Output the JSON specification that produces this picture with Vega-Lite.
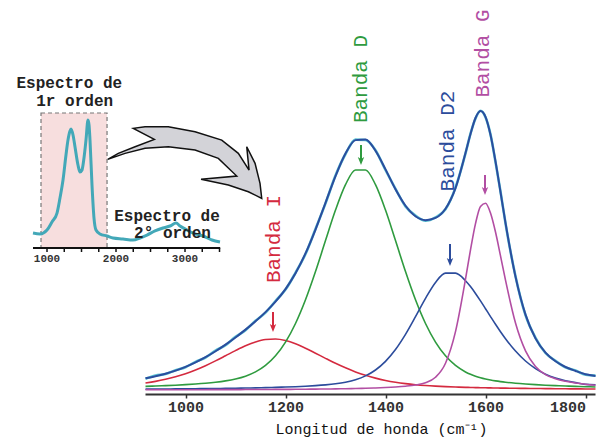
{
  "$schema": "https://vega.github.io/schema/vega-lite/v6.json",
  "width": 450,
  "height": 380,
  "autosize": {"type": "none"},
  "padding": {"left": 145, "top": 14, "right": 5, "bottom": 47},
  "background": "white",
  "config": {"view": {"stroke": null}, "text": {"font": "Liberation Mono"}},
  "datasets": {
    "espectro": [
      {"w":920,"banda_I":5.52,"banda_D":3.81,"banda_D2":2.45,"banda_G":2.11,"ajuste":7.89,"experimental":7.6},
      {"w":940,"banda_I":6.31,"banda_D":3.98,"banda_D2":2.48,"banda_G":2.12,"ajuste":8.89,"experimental":9.2},
      {"w":960,"banda_I":7.33,"banda_D":4.18,"banda_D2":2.52,"banda_G":2.12,"ajuste":10.15,"experimental":10.0},
      {"w":980,"banda_I":8.61,"banda_D":4.40,"banda_D2":2.55,"banda_G":2.13,"ajuste":11.69,"experimental":11.9},
      {"w":1000,"banda_I":10.17,"banda_D":4.67,"banda_D2":2.59,"banda_G":2.14,"ajuste":13.57,"experimental":13.4},
      {"w":1020,"banda_I":12.03,"banda_D":4.99,"banda_D2":2.64,"banda_G":2.15,"ajuste":15.81,"experimental":16.1},
      {"w":1040,"banda_I":14.17,"banda_D":5.38,"banda_D2":2.69,"banda_G":2.16,"ajuste":18.40,"experimental":18.2},
      {"w":1060,"banda_I":16.57,"banda_D":5.88,"banda_D2":2.75,"banda_G":2.17,"ajuste":21.37,"experimental":21.7},
      {"w":1080,"banda_I":19.12,"banda_D":6.55,"banda_D2":2.82,"banda_G":2.19,"ajuste":24.68,"experimental":24.4},
      {"w":1100,"banda_I":21.69,"banda_D":7.50,"banda_D2":2.89,"banda_G":2.20,"ajuste":28.28,"experimental":28.6},
      {"w":1120,"banda_I":24.08,"banda_D":8.90,"banda_D2":2.98,"banda_G":2.22,"ajuste":32.18,"experimental":31.9},
      {"w":1140,"banda_I":26.01,"banda_D":11.04,"banda_D2":3.08,"banda_G":2.24,"ajuste":36.37,"experimental":36.6},
      {"w":1160,"banda_I":27.22,"banda_D":14.28,"banda_D2":3.19,"banda_G":2.26,"ajuste":40.95,"experimental":40.7},
      {"w":1180,"banda_I":27.47,"banda_D":19.09,"banda_D2":3.32,"banda_G":2.29,"ajuste":46.17,"experimental":46.5},
      {"w":1200,"banda_I":26.72,"banda_D":25.94,"banda_D2":3.48,"banda_G":2.32,"ajuste":52.46,"experimental":52.2},
      {"w":1220,"banda_I":25.12,"banda_D":35.24,"banda_D2":3.66,"banda_G":2.35,"ajuste":60.37,"experimental":60.6},
      {"w":1240,"banda_I":22.92,"banda_D":47.09,"banda_D2":3.89,"banda_G":2.39,"ajuste":70.29,"experimental":70.0},
      {"w":1260,"banda_I":20.41,"banda_D":61.21,"banda_D2":4.18,"banda_G":2.44,"ajuste":82.24,"experimental":82.5},
      {"w":1280,"banda_I":17.83,"banda_D":76.71,"banda_D2":4.56,"banda_G":2.49,"ajuste":95.59,"experimental":95.3},
      {"w":1300,"banda_I":15.34,"banda_D":91.97,"banda_D2":5.09,"banda_G":2.56,"ajuste":108.96,"experimental":109.2},
      {"w":1320,"banda_I":13.07,"banda_D":104.66,"banda_D2":5.89,"banda_G":2.64,"ajuste":120.26,"experimental":120.0},
      {"w":1340,"banda_I":11.06,"banda_D":112.02,"banda_D2":7.12,"banda_G":2.74,"ajuste":126.94,"experimental":127.2},
      {"w":1360,"banda_I":9.35,"banda_D":112.02,"banda_D2":9.05,"banda_G":2.87,"ajuste":127.29,"experimental":127.0},
      {"w":1380,"banda_I":7.93,"banda_D":104.66,"banda_D2":12.00,"banda_G":3.03,"ajuste":121.62,"experimental":121.9},
      {"w":1400,"banda_I":6.79,"banda_D":91.97,"banda_D2":16.32,"banda_G":3.24,"ajuste":112.32,"experimental":112.0},
      {"w":1420,"banda_I":5.89,"banda_D":76.71,"banda_D2":22.25,"banda_G":3.52,"ajuste":102.37,"experimental":102.6},
      {"w":1440,"banda_I":5.19,"banda_D":61.21,"banda_D2":29.82,"banda_G":3.91,"ajuste":94.13,"experimental":93.8},
      {"w":1460,"banda_I":4.65,"banda_D":47.09,"banda_D2":38.65,"banda_G":4.50,"ajuste":88.89,"experimental":89.2},
      {"w":1480,"banda_I":4.24,"banda_D":35.24,"banda_D2":47.83,"banda_G":5.62,"ajuste":86.93,"experimental":86.6},
      {"w":1500,"banda_I":3.93,"banda_D":25.94,"banda_D2":55.80,"banda_G":8.36,"ajuste":88.03,"experimental":88.3},
      {"w":1520,"banda_I":3.68,"banda_D":19.09,"banda_D2":60.46,"banda_G":15.39,"ajuste":92.62,"experimental":92.4},
      {"w":1540,"banda_I":3.49,"banda_D":14.28,"banda_D2":60.42,"banda_G":31.2,"ajuste":102.94,"experimental":103.2},
      {"w":1560,"banda_I":3.33,"banda_D":11.04,"banda_D2":56.65,"banda_G":57.4,"ajuste":120.5,"experimental":120.3},
      {"w":1570,"banda_I":3.27,"banda_D":9.86,"banda_D2":53.71,"banda_G":72.1,"ajuste":130.0,"experimental":130.2},
      {"w":1580,"banda_I":3.21,"banda_D":8.90,"banda_D2":50.29,"banda_G":85.2,"ajuste":138.0,"experimental":137.8},
      {"w":1590,"banda_I":3.15,"banda_D":8.13,"banda_D2":46.55,"banda_G":93.8,"ajuste":141.5,"experimental":141.6},
      {"w":1600,"banda_I":3.10,"banda_D":7.50,"banda_D2":42.65,"banda_G":95.4,"ajuste":138.6,"experimental":138.4},
      {"w":1610,"banda_I":3.05,"banda_D":6.98,"banda_D2":38.72,"banda_G":90.5,"ajuste":129.6,"experimental":129.8},
      {"w":1620,"banda_I":3.00,"banda_D":6.55,"banda_D2":34.85,"banda_G":81.0,"ajuste":116.3,"experimental":116.0},
      {"w":1630,"banda_I":2.96,"banda_D":6.19,"banda_D2":31.14,"banda_G":69.1,"ajuste":101.0,"experimental":101.3},
      {"w":1640,"banda_I":2.92,"banda_D":5.88,"banda_D2":27.65,"banda_G":56.9,"ajuste":85.6,"experimental":85.4},
      {"w":1660,"banda_I":2.85,"banda_D":5.38,"banda_D2":21.47,"banda_G":35.5,"ajuste":58.67,"experimental":58.9},
      {"w":1680,"banda_I":2.79,"banda_D":4.99,"banda_D2":16.49,"banda_G":21.6,"ajuste":39.66,"experimental":39.4},
      {"w":1700,"banda_I":2.74,"banda_D":4.67,"banda_D2":12.68,"banda_G":13.8,"ajuste":27.80,"experimental":28.1},
      {"w":1720,"banda_I":2.69,"banda_D":4.40,"banda_D2":9.90,"banda_G":9.72,"ajuste":20.71,"experimental":20.5},
      {"w":1740,"banda_I":2.64,"banda_D":4.18,"banda_D2":7.95,"banda_G":7.59,"ajuste":16.36,"experimental":16.6},
      {"w":1760,"banda_I":2.60,"banda_D":3.98,"banda_D2":6.60,"banda_G":6.33,"ajuste":13.51,"experimental":13.3},
      {"w":1780,"banda_I":2.56,"banda_D":3.81,"banda_D2":5.68,"banda_G":5.48,"ajuste":11.53,"experimental":11.8},
      {"w":1800,"banda_I":2.53,"banda_D":3.66,"banda_D2":4.81,"banda_G":4.86,"ajuste":9.86,"experimental":9.6},
      {"w":1820,"banda_I":2.50,"banda_D":3.52,"banda_D2":4.59,"banda_G":4.40,"ajuste":9.01,"experimental":9.2}
    ],
    "etiquetas": [
      {"w":1177,"I":77.5,"label":"Banda I","banda":"I"},
      {"w":1351,"I":157.5,"label":"Banda D","banda":"D"},
      {"w":1524,"I":126.5,"label":"Banda D2","banda":"D2"},
      {"w":1594,"I":170.25,"label":"Banda G","banda":"G"}
    ],
    "flechas": [
      {"banda":"I","w":1175,"top":41,"bottom":31},
      {"banda":"D","w":1351,"top":124.5,"bottom":114.5},
      {"banda":"D2","w":1529,"top":75,"bottom":64},
      {"banda":"G","w":1599,"top":109.5,"bottom":99.5}
    ],
    "inset": [
      {"wv":797,"v":11.1},{"wv":899,"v":10.4},{"wv":1000,"v":13.3},{"wv":1072,"v":19.3},
      {"wv":1145,"v":25.9},{"wv":1188,"v":37.0},{"wv":1232,"v":50.4},{"wv":1275,"v":68.9},
      {"wv":1304,"v":80.0},{"wv":1333,"v":86.7},{"wv":1348,"v":88.1},{"wv":1377,"v":83.7},
      {"wv":1406,"v":74.8},{"wv":1449,"v":61.5},{"wv":1478,"v":56.3},{"wv":1507,"v":57.8},
      {"wv":1536,"v":66.7},{"wv":1565,"v":80.0},{"wv":1594,"v":94.8},{"wv":1609,"v":91.1},
      {"wv":1623,"v":80.0},{"wv":1652,"v":46.7},{"wv":1681,"v":22.2},{"wv":1710,"v":13.3},
      {"wv":1768,"v":10.4},{"wv":1870,"v":8.9},{"wv":1957,"v":7.4},{"wv":2101,"v":6.7},
      {"wv":2246,"v":5.9},{"wv":2348,"v":7.4},{"wv":2449,"v":9.6},{"wv":2565,"v":12.6},
      {"wv":2681,"v":14.8},{"wv":2783,"v":16.3},{"wv":2870,"v":18.5},{"wv":2928,"v":16.3},
      {"wv":3029,"v":13.3},{"wv":3145,"v":10.4},{"wv":3261,"v":8.9},{"wv":3391,"v":5.9},
      {"wv":3507,"v":4.4}
    ],
    "inset_zona": [{"x1":913,"x2":1870,"y1":0,"y2":100}],
    "inset_eje": [{"x1":797,"x2":3510}],
    "inset_ticks": [{"wv":1000},{"wv":1250},{"wv":1500},{"wv":1750},{"wv":2000},{"wv":2250},{"wv":2500},{"wv":2750},{"wv":3000},{"wv":3250},{"wv":3500}],
    "inset_etiquetas": [{"wv":1000,"label":"1000"},{"wv":2000,"label":"2000"},{"wv":3000,"label":"3000"}],
    "inset_textos": [
      {"wv":1323,"v":122.2,"label":"Espectro de"},
      {"wv":1401,"v":108.9,"label":"1r orden"},
      {"wv":2739,"v":23.6,"label":"Espectro de"},
      {"wv":2819,"v":11.0,"label":"2° orden"}
    ],
    "flecha_grande": [{"wv":2996,"v":63.3}]
  },
  "layer": [
    {
      "layer": [
        {
          "data": {"name": "espectro"},
          "mark": {"type": "line", "color": "#d42a3f", "strokeWidth": 1.6, "interpolate": "monotone"},
          "encoding": {
            "x": {"field": "w", "type": "quantitative",
                  "scale": {"domain": [919, 1819], "nice": false, "zero": false},
                  "axis": {"orient": "bottom", "values": [1000, 1200, 1400, 1600, 1800], "format": "d", "grid": false,
                           "domainColor": "#333", "domainWidth": 2, "tickColor": "#333", "tickSize": 4, "tickWidth": 1.5,
                           "labelFont": "Liberation Mono", "labelFontSize": 15, "labelFontWeight": "bold", "labelColor": "#333",
                           "labelPadding": 1, "labelFlush": 12,
                           "title": "Longitud de honda (cm⁻¹)", "titleFont": "Liberation Mono", "titleFontSize": 15,
                           "titleFontWeight": "normal", "titleColor": "#111", "titlePadding": 7, "titleX": 236}},
            "y": {"field": "banda_I", "type": "quantitative",
                  "scale": {"domain": [0, 190], "nice": false, "zero": false}, "axis": null}
          }
        },
        {
          "data": {"name": "espectro"},
          "mark": {"type": "line", "color": "#2f9b3f", "strokeWidth": 1.6, "interpolate": "monotone"},
          "encoding": {
            "x": {"field": "w", "type": "quantitative"},
            "y": {"field": "banda_D", "type": "quantitative", "axis": null}
          }
        },
        {
          "data": {"name": "espectro"},
          "mark": {"type": "line", "color": "#2c4c9c", "strokeWidth": 1.6, "interpolate": "monotone"},
          "encoding": {
            "x": {"field": "w", "type": "quantitative"},
            "y": {"field": "banda_D2", "type": "quantitative", "axis": null}
          }
        },
        {
          "data": {"name": "espectro"},
          "mark": {"type": "line", "color": "#b24ea3", "strokeWidth": 1.6, "interpolate": "monotone"},
          "encoding": {
            "x": {"field": "w", "type": "quantitative"},
            "y": {"field": "banda_G", "type": "quantitative", "axis": null}
          }
        },
        {
          "data": {"name": "espectro"},
          "mark": {"type": "line", "color": "#5cc3d3", "strokeWidth": 2.6, "interpolate": "monotone"},
          "encoding": {
            "x": {"field": "w", "type": "quantitative"},
            "y": {"field": "experimental", "type": "quantitative", "axis": null}
          }
        },
        {
          "data": {"name": "espectro"},
          "mark": {"type": "line", "color": "#2b4d9e", "strokeWidth": 2, "interpolate": "monotone"},
          "encoding": {
            "x": {"field": "w", "type": "quantitative"},
            "y": {"field": "ajuste", "type": "quantitative", "axis": null}
          }
        },
        {
          "data": {"name": "flechas"},
          "mark": {"type": "rule", "strokeWidth": 2, "y2Offset": -4},
          "encoding": {
            "x": {"field": "w", "type": "quantitative"},
            "y": {"field": "top", "type": "quantitative", "axis": null},
            "y2": {"field": "bottom"},
            "color": {"field": "banda", "type": "nominal",
                      "scale": {"domain": ["I", "D", "D2", "G"], "range": ["#d42a3f", "#2f9b3f", "#2c4c9c", "#b24ea3"]},
                      "legend": null}
          }
        },
        {
          "data": {"name": "flechas"},
          "mark": {"type": "point", "shape": "M-0.8,-1L0,1L0.8,-1L0,-0.5Z", "size": 64, "filled": true, "opacity": 1, "yOffset": -4},
          "encoding": {
            "x": {"field": "w", "type": "quantitative"},
            "y": {"field": "bottom", "type": "quantitative", "axis": null},
            "color": {"field": "banda", "type": "nominal", "legend": null}
          }
        },
        {
          "data": {"name": "etiquetas"},
          "mark": {"type": "text", "angle": 270, "align": "center", "baseline": "middle", "fontSize": 21, "font": "Liberation Mono"},
          "encoding": {
            "x": {"field": "w", "type": "quantitative"},
            "y": {"field": "I", "type": "quantitative", "axis": null},
            "text": {"field": "label"},
            "color": {"field": "banda", "type": "nominal", "legend": null}
          }
        }
      ]
    },
    {
      "layer": [
        {
          "data": {"name": "inset_zona"},
          "mark": {"type": "rect", "fill": "#f7dede", "stroke": "#777", "strokeDash": [4, 3], "strokeWidth": 1.2},
          "encoding": {
            "x": {"field": "x1", "type": "quantitative",
                  "scale": {"domain": [797, 3510], "range": [-112, 75.2], "nice": false, "zero": false}, "axis": null},
            "x2": {"field": "x2"},
            "y": {"field": "y1", "type": "quantitative",
                  "scale": {"domain": [0, 100], "range": [234, 99], "nice": false, "zero": false}, "axis": null},
            "y2": {"field": "y2"}
          }
        },
        {
          "data": {"name": "inset"},
          "mark": {"type": "line", "color": "#43a8b8", "strokeWidth": 3, "interpolate": "monotone"},
          "encoding": {
            "x": {"field": "wv", "type": "quantitative", "axis": null},
            "y": {"field": "v", "type": "quantitative", "axis": null}
          }
        },
        {
          "data": {"name": "inset_eje"},
          "mark": {"type": "rule", "color": "#111", "strokeWidth": 2},
          "encoding": {
            "x": {"field": "x1", "type": "quantitative", "axis": null},
            "x2": {"field": "x2"},
            "y": {"datum": 0, "type": "quantitative", "axis": null}
          }
        },
        {
          "data": {"name": "inset_ticks"},
          "mark": {"type": "rule", "color": "#111", "strokeWidth": 1.5, "y2Offset": 4},
          "encoding": {
            "x": {"field": "wv", "type": "quantitative", "axis": null},
            "y": {"datum": 0, "type": "quantitative", "axis": null},
            "y2": {"datum": 0}
          }
        },
        {
          "data": {"name": "inset_etiquetas"},
          "mark": {"type": "text", "fontSize": 11, "fontWeight": "bold", "font": "Liberation Mono", "color": "#333", "baseline": "middle", "yOffset": 11},
          "encoding": {
            "x": {"field": "wv", "type": "quantitative", "axis": null},
            "y": {"datum": 0, "type": "quantitative", "axis": null},
            "text": {"field": "label"}
          }
        },
        {
          "data": {"name": "inset_textos"},
          "mark": {"type": "text", "fontSize": 16, "fontWeight": "bold", "font": "Liberation Mono", "color": "#222", "baseline": "middle", "align": "center"},
          "encoding": {
            "x": {"field": "wv", "type": "quantitative", "axis": null},
            "y": {"field": "v", "type": "quantitative", "axis": null},
            "text": {"field": "label"}
          }
        },
        {
          "data": {"name": "flecha_grande"},
          "mark": {"type": "point",
                   "shape": "M-0.9625,-0.04L-0.746,-0.115L-0.496,-0.1775L-0.205,-0.1975L0.129,-0.156L0.42,-0.0525L0.65,0.169L0.204,0.21L0.545,0.281L0.795,0.365L0.9625,0.4475L0.941,0.26L0.879,0.01L0.775,-0.1975L0.804,0.094L0.67,-0.115L0.4625,-0.281L0.129,-0.385L-0.205,-0.4475L-0.496,-0.4475L-0.6425,-0.4275L-0.38,-0.29L-0.621,-0.1975L-0.83,-0.115Z",
                   "size": 25600, "filled": true, "fill": "#d3d3d8", "stroke": "#111", "strokeWidth": 1.5, "opacity": 1, "fillOpacity": 1, "strokeOpacity": 1},
          "encoding": {
            "x": {"field": "wv", "type": "quantitative", "axis": null},
            "y": {"field": "v", "type": "quantitative", "axis": null}
          }
        }
      ]
    }
  ],
  "resolve": {"scale": {"x": "independent", "y": "independent"}}
}
